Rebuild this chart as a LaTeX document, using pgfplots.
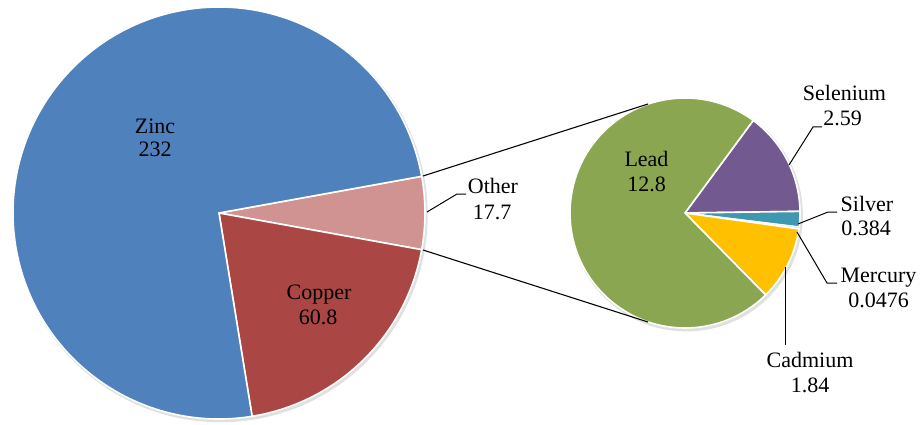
\documentclass[border=0pt]{standalone}
\usepackage{pgfplots}
\pgfplotsset{compat=1.18}
\usepackage{pgfplotstable}
\usepackage{fontspec}
\setmainfont{Liberation Serif}

\definecolor{cZinc}{RGB}{79,129,189}
\definecolor{cCopper}{RGB}{170,70,67}
\definecolor{cOther}{RGB}{209,147,146}
\definecolor{cLead}{RGB}{139,166,80}
\definecolor{cSelenium}{RGB}{114,89,143}
\definecolor{cSilver}{RGB}{62,152,176}
\definecolor{cMercury}{RGB}{205,225,235}
\definecolor{cCadmium}{RGB}{255,192,0}

\pgfplotstableread{
metal value
Zinc 232
Copper 60.8
Other 17.7
}\maintab
\pgfplotstableread{
metal value
Selenium 2.59
Silver 0.384
Mercury 0.0476
Cadmium 1.84
Lead 12.8
}\subtab

\begin{document}
\begin{tikzpicture}
% read values
\pgfplotstablegetelem{0}{value}\of\maintab \let\vZinc\pgfplotsretval
\pgfplotstablegetelem{1}{value}\of\maintab \let\vCopper\pgfplotsretval
\pgfplotstablegetelem{2}{value}\of\maintab \let\vOther\pgfplotsretval
\pgfplotstablegetelem{0}{value}\of\subtab \let\vSel\pgfplotsretval
\pgfplotstablegetelem{1}{value}\of\subtab \let\vSil\pgfplotsretval
\pgfplotstablegetelem{2}{value}\of\subtab \let\vMer\pgfplotsretval
\pgfplotstablegetelem{3}{value}\of\subtab \let\vCad\pgfplotsretval
\pgfplotstablegetelem{4}{value}\of\subtab \let\vLea\pgfplotsretval
% main pie angles (Other centred on 0 deg, clockwise)
\pgfmathsetmacro\T{\vZinc+\vCopper+\vOther}
\pgfmathsetmacro\aA{180*(\vOther/\T)}
\pgfmathsetmacro\aB{\aA-360*(\vOther/\T)}
\pgfmathsetmacro\aC{\aB-360*(\vCopper/\T)}
\pgfmathsetmacro\aD{\aC-360*(\vZinc/\T)}
% secondary pie angles
\pgfmathsetmacro\S{\vSel+\vSil+\vMer+\vCad+\vLea}
\pgfmathsetmacro\bA{53.6}
\pgfmathsetmacro\bB{\bA-360*(\vSel/\S)}
\pgfmathsetmacro\bC{\bB-360*(\vSil/\S)}
\pgfmathsetmacro\bD{\bC-360*(\vMer/\S)}
\pgfmathsetmacro\bE{\bD-360*(\vCad/\S)}
\pgfmathsetmacro\bF{\bE-360*(\vLea/\S)}
\begin{axis}[
  name=ax,
  x=0.5pt, y=0.5pt,
  xmin=0, xmax=922, ymin=0, ymax=424,
  hide axis, clip=false,
  axis line style={draw=none},
]
% shadows
\fill[black!12] (axis cs:220.5,209) circle[radius=103.6pt];
\fill[black!12] (axis cs:686.5,209) circle[radius=58.2pt];
% main pie
\fill[cOther, draw=white, line width=0.8pt] (axis cs:219,211) -- ++(\aA:103pt) arc[start angle=\aA, end angle=\aB, radius=103pt] -- cycle;
\fill[cCopper, draw=white, line width=0.8pt] (axis cs:219,211) -- ++(\aB:103pt) arc[start angle=\aB, end angle=\aC, radius=103pt] -- cycle;
\fill[cZinc, draw=white, line width=0.8pt] (axis cs:219,211) -- ++(\aC:103pt) arc[start angle=\aC, end angle=\aD, radius=103pt] -- cycle;
% secondary pie
\fill[cSelenium, draw=white, line width=0.8pt] (axis cs:685,211) -- ++(\bA:57.5pt) arc[start angle=\bA, end angle=\bB, radius=57.5pt] -- cycle;
\fill[cSilver, draw=white, line width=0.8pt] (axis cs:685,211) -- ++(\bB:57.5pt) arc[start angle=\bB, end angle=\bC, radius=57.5pt] -- cycle;
\fill[cMercury, draw=white, line width=0.5pt] (axis cs:685,211) -- ++(\bC:57.5pt) arc[start angle=\bC, end angle=\bD, radius=57.5pt] -- cycle;
\fill[cCadmium, draw=white, line width=0.8pt] (axis cs:685,211) -- ++(\bD:57.5pt) arc[start angle=\bD, end angle=\bE, radius=57.5pt] -- cycle;
\fill[cLead, draw=white, line width=0.8pt] (axis cs:685,211) -- ++(\bE:57.5pt) arc[start angle=\bE, end angle=\bF, radius=57.5pt] -- cycle;
% connector lines
\draw[black, line width=0.55pt] (axis cs:423,248) -- (axis cs:648,320);
\draw[black, line width=0.55pt] (axis cs:423,174) -- (axis cs:648,102);
% leader lines
\draw[black, line width=0.5pt] (axis cs:427,212) -- (axis cs:457,230) -- (axis cs:466,230);
\draw[black, line width=0.5pt] (axis cs:789,259) -- (axis cs:813,297) -- (axis cs:822,297);
\draw[black, line width=0.5pt] (axis cs:798,200) -- (axis cs:828,212) -- (axis cs:837,212);
\draw[black, line width=0.5pt] (axis cs:797,192) -- (axis cs:827,141) -- (axis cs:837,141);
\draw[black, line width=0.5pt] (axis cs:785,157) -- (axis cs:785,79);
% labels
\begin{scope}[every node/.style={anchor=base, inner sep=0pt, font=\fontsize{11}{12}\selectfont}]
\node at (axis cs:155,291) {Zinc};
\node at (axis cs:155,267) {232};
\node at (axis cs:319,125) {Copper};
\node at (axis cs:318,100) {60.8};
\node at (axis cs:493,231) {Other};
\node at (axis cs:492,205) {17.7};
\node at (axis cs:646.5,257) {Lead};
\node at (axis cs:646.5,233) {12.8};
\node at (axis cs:844.5,323) {Selenium};
\node at (axis cs:842.5,299) {2.59};
\node at (axis cs:867,213) {Silver};
\node at (axis cs:866,189) {0.384};
\node at (axis cs:878.5,142) {Mercury};
\node at (axis cs:878.5,117) {0.0476};
\node at (axis cs:810,57) {Cadmium};
\node at (axis cs:810,32) {1.84};
\end{scope}
\end{axis}
\pgfresetboundingbox
\path (ax.south west) rectangle (ax.north east);
\end{tikzpicture}
\end{document}
